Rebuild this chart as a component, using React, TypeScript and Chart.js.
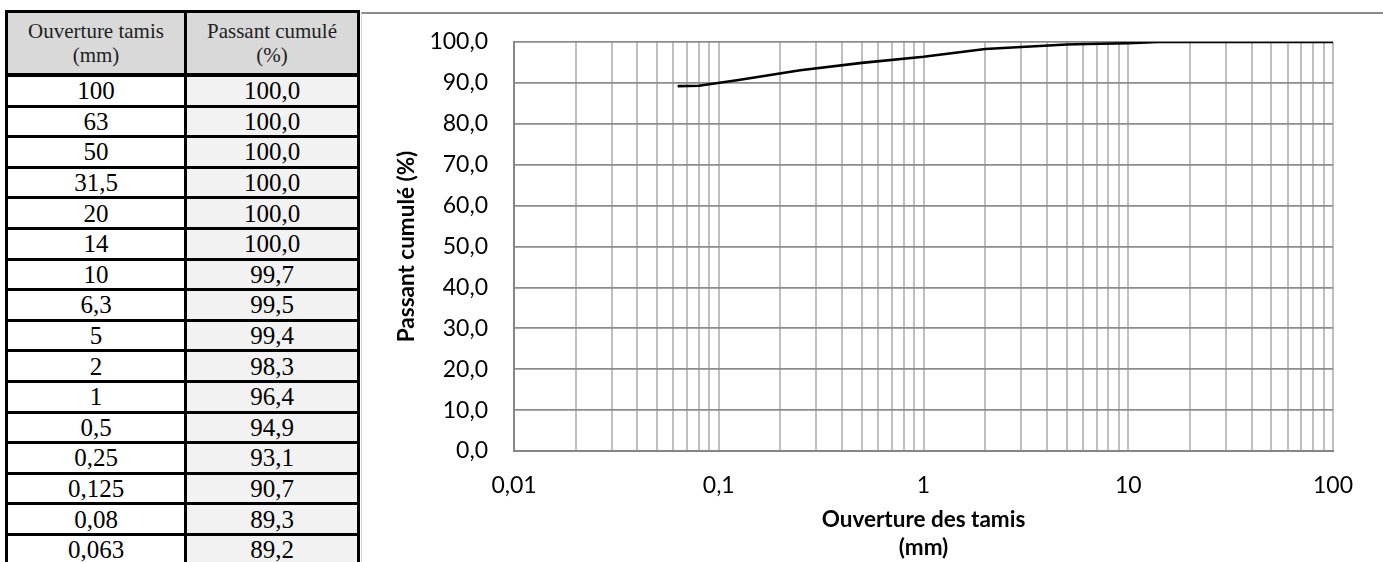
import React, { useEffect, useRef } from "react";
import { Chart, registerables } from "chart.js";

Chart.register(...registerables);

// ---- data ----
const SIEVE_MM = [100, 63, 50, 31.5, 20, 14, 10, 6.3, 5, 2, 1, 0.5, 0.25, 0.125, 0.08, 0.063];
const PASSING_PCT = [100.0, 100.0, 100.0, 100.0, 100.0, 100.0, 99.7, 99.5, 99.4, 98.3, 96.4, 94.9, 93.1, 90.7, 89.3, 89.2];
const HEADER_COL1 = ["Ouverture tamis", "(mm)"];
const HEADER_COL2 = ["Passant cumulé", "(%)"];
const X_DECADES = [0.01, 0.1, 1, 10];
const X_MULTIPLIERS = [1, 2, 3, 4, 5, 6, 7, 8, 9];
const X_LABELS = [0.01, 0.1, 1, 10, 100];
const X_MIN = 0.01;
const X_MAX = 100;
const Y_MIN = 0;
const Y_MAX = 100;
const Y_STEP = 10;
const Y_TITLE = "Passant cumulé (%)";
const X_TITLE = ["Ouverture des tamis", "(mm)"];

const X_GRID = X_DECADES.flatMap((d) => X_MULTIPLIERS.map((m) => +(d * m).toPrecision(3))).concat([X_MAX]);

const fmtSieve = (v: number) => String(v).replace(".", ",");
const fmtPct = (v: number) => v.toFixed(1).replace(".", ",");

const SANS = "Lato";
const SERIF = "'Liberation Serif', 'Times New Roman', serif";

function GradChart() {
  const ref = useRef<HTMLCanvasElement | null>(null);
  useEffect(() => {
    if (!ref.current) return;
    const chart = new Chart(ref.current, {
      type: "line",
      data: {
        datasets: [
          {
            data: SIEVE_MM.map((x, i) => ({ x, y: PASSING_PCT[i] })),
            borderColor: "#000000",
            borderWidth: 2.6,
            pointRadius: 0,
            tension: 0,
            fill: false,
          },
        ],
      },
      options: {
        animation: false,
        responsive: false,
        maintainAspectRatio: false,
        events: [],
        layout: { padding: { top: 28, right: 50, bottom: 0, left: 0 } },
        plugins: { legend: { display: false }, tooltip: { enabled: false } },
        scales: {
          x: {
            type: "logarithmic",
            min: X_MIN,
            max: X_MAX,
            afterBuildTicks: (s: any) => {
              s.ticks = X_GRID.map((v) => ({ value: v }));
            },
            afterFit: (s: any) => {
              s.height = 111;
              s.paddingTop = 0;
              s.paddingBottom = 0;
            },
            ticks: {
              autoSkip: false,
              maxRotation: 0,
              minRotation: 0,
              padding: 21,
              color: "#000",
              font: { family: SANS, size: 23 },
              callback: (v: any) => (X_LABELS.includes(Number(v)) ? fmtSieve(Number(v)) : ""),
            },
            grid: { color: "#bfbfbf", lineWidth: 2, drawTicks: false },
            border: { color: "#868686", width: 2 },
            title: {
              display: true,
              text: X_TITLE,
              color: "#000",
              font: { family: SANS, size: 22.5, weight: "bold", lineHeight: 28 / 22.5 },
              padding: { top: 0, bottom: 0 },
            },
          },
          y: {
            min: Y_MIN,
            max: Y_MAX,
            afterFit: (s: any) => {
              s.width = 152;
              s.paddingTop = 0;
              s.paddingBottom = 0;
            },
            ticks: {
              stepSize: Y_STEP,
              padding: 26,
              color: "#000",
              font: { family: SANS, size: 23 },
              callback: (v: any) => fmtPct(Number(v)),
            },
            grid: { color: "#8c8c8c", lineWidth: 1.8, drawTicks: false },
            border: { color: "#868686", width: 2 },
            title: {
              display: true,
              text: Y_TITLE,
              color: "#000",
              font: { family: SANS, size: 22.5, weight: "bold", lineHeight: 28 / 22.5 },
              padding: { top: 31, bottom: 0 },
            },
          },
        },
      },
    } as any);
    return () => chart.destroy();
  }, []);
  return <canvas ref={ref} width={1021} height={548} style={{ display: "block", width: 1021, height: 548 }} />;
}

function SieveTable() {
  const cellBase: React.CSSProperties = {
    display: "flex",
    alignItems: "center",
    justifyContent: "center",
    textAlign: "center",
    boxSizing: "border-box",
  };
  return (
    <div
      style={{
        position: "absolute",
        left: 5,
        top: 10,
        width: 355,
        border: "3px solid #000",
        borderBottom: "none",
        boxSizing: "border-box",
        fontFamily: SERIF,
        color: "#000",
        background: "#fff",
      }}
    >
      <div style={{ display: "flex", height: 64, borderBottom: "4px solid #000", boxSizing: "border-box", background: "#d9d9d9" }}>
        <div style={{ ...cellBase, width: 179, borderRight: "3px solid #000", flexDirection: "column", fontSize: 21, lineHeight: "24px", color: "#222" }}>
          {HEADER_COL1.map((t) => (
            <div key={t}>{t}</div>
          ))}
        </div>
        <div style={{ ...cellBase, width: 170, flexDirection: "column", fontSize: 21, lineHeight: "24px", color: "#222" }}>
          {HEADER_COL2.map((t) => (
            <div key={t}>{t}</div>
          ))}
        </div>
      </div>
      {SIEVE_MM.map((s, i) => (
        <div key={i} style={{ display: "flex", height: 30.6, borderBottom: "3px solid #000", boxSizing: "border-box" }}>
          <div style={{ ...cellBase, width: 179, borderRight: "3px solid #000", fontSize: 25, lineHeight: "27px", background: "#fff" }}>
            {fmtSieve(s)}
          </div>
          <div style={{ ...cellBase, width: 170, fontSize: 25, lineHeight: "27px", background: "#f2f2f2" }}>
            {fmtPct(PASSING_PCT[i])}
          </div>
        </div>
      ))}
    </div>
  );
}

export default function App() {
  return (
    <div style={{ position: "fixed", left: 0, top: 0, width: 1383, height: 562, overflow: "hidden", background: "#fff" }}>
      <SieveTable />
      <div
        style={{
          position: "absolute",
          left: 361,
          top: 12,
          width: 1022,
          height: 550,
          borderTop: "2px solid #8c8c8c",
          borderLeft: "1px solid #d4d4d4",
          boxSizing: "border-box",
        }}
      >
        <GradChart />
      </div>
    </div>
  );
}
